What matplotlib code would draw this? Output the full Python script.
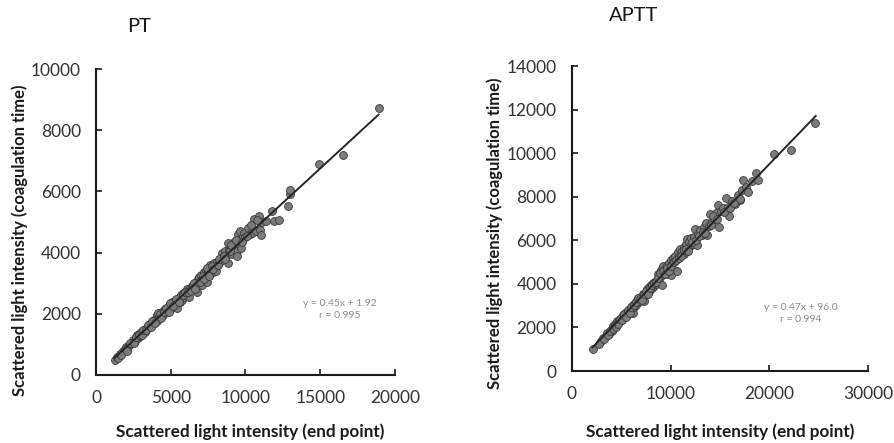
import numpy as np
import matplotlib.pyplot as plt

plt.rcParams['font.family'] = ['Lato', 'DejaVu Sans']

# PT: end point vs coagulation time scattered light intensity
pt_x = [1250, 1400, 1500, 1800, 1950, 2000, 2100, 2200, 2300, 2350, 2450, 2500, 2600, 2700,
        2750, 2800, 2900, 2950, 3000, 3100, 3200, 3250, 3300, 3400, 3500, 3550, 3600, 3700,
        3800, 3850, 3900, 4000, 4050, 4100, 4150, 4200, 4300, 4400, 4450, 4500, 4600, 4700,
        4750, 4800, 4900, 5000, 5050, 5100, 5200, 5250, 5300, 5400, 5450, 5500, 5600, 5650,
        5700, 5750, 5800, 5900, 6000, 6050, 6100, 6200, 6300, 6400, 6450, 6500, 6600, 6700,
        6750, 6800, 6850, 6900, 7000, 7050, 7100, 7200, 7300, 7350, 7400, 7500, 7600, 7650,
        7700, 7800, 7900, 8000, 8050, 8100, 8200, 8300, 8400, 8450, 8500, 8600, 8700, 8800,
        8850, 8900, 9000, 9100, 9200, 9300, 9400, 9450, 9500, 9600, 9650, 9700, 9800, 9900,
        10000, 10150, 10300, 10450, 10600, 10700, 10900, 11000, 11050, 11100, 11400, 11750,
        11900, 12250, 12850, 12950, 12950, 14950, 16500, 18900,
        1600, 1700, 2050, 2250, 2550, 2650, 2850, 3050, 3150, 3350, 3450, 3650, 3750, 3950,
        4250, 4350, 4550, 4650, 4850, 4950, 5150, 5350, 5550, 5850, 5950, 6150, 6350, 6550,
        6650, 6950, 7150, 7250, 7450, 7550, 7750, 7850, 8150, 8250, 8550, 8650, 8950, 9050,
        9350, 9750, 10100, 10400, 10800]
pt_y = [500, 600, 560, 780, 850, 900, 870, 980, 1000, 1060, 1080, 1150, 1120, 1230,
        1300, 1200, 1350, 1280, 1400, 1330, 1450, 1500, 1420, 1550, 1520, 1600, 1680, 1620,
        1750, 1700, 1800, 1820, 1760, 1950, 2030, 1880, 1920, 2000, 2100, 1950, 2150, 2080,
        2200, 2120, 2250, 2300, 2180, 2380, 2250, 2400, 2320, 2450, 2200, 2500, 2380, 2550,
        2600, 2450, 2680, 2550, 2750, 2620, 2800, 2550, 2850, 2900, 2780, 2950, 2880, 3050,
        2720, 3150, 2950, 3200, 3100, 3280, 2950, 3350, 3200, 3400, 3050, 3450, 3300, 3600,
        3500, 3350, 3650, 3550, 3400, 3700, 3650, 3800, 3750, 4000, 3850, 4050, 3900, 3650,
        4300, 4100, 4150, 3950, 4350, 4250, 4050, 3900, 4600, 4700, 4400, 4150, 4500, 4650,
        4500, 4800, 4600, 4650, 5100, 4700, 5200, 4750, 4580, 5000, 5020, 5350,
        5020, 5080, 5530, 5900, 6030, 6900, 7200, 8720,
        700, 650, 800, 1050, 1050, 1250, 1300, 1300, 1480, 1480, 1620, 1560, 1750, 1700,
        2000, 1850, 2050, 2200, 2050, 2350, 2250, 2500, 2400, 2600, 2700, 2700, 2750, 3000,
        2800, 3050, 3250, 3150, 3500, 3250, 3550, 3450, 3600, 3800, 3900, 3800, 4050, 4250,
        4400, 4350, 4550, 4900, 5050]
pt_fit = (0.45, 1.92)
pt_fit_range = (1250, 18900)
pt_note = "y = 0.45x + 1.92\nr = 0.995"

# APTT
aptt_x = [2150, 3000, 3200, 3500, 3600, 3800, 4000, 4100, 4200, 4300, 4400, 4500, 4600, 4700,
          4800, 4900, 5000, 5100, 5200, 5300, 5400, 5500, 5600, 5700, 5800, 5900, 6000, 6100,
          6200, 6250, 6300, 6400, 6500, 6600, 6700, 6800, 6900, 7000, 7100, 7200, 7300, 7400,
          7500, 7600, 7700, 7800, 7900, 8000, 8100, 8200, 8300, 8400, 8500, 8600, 8700, 8800,
          8900, 9000, 9100, 9150, 9200, 9300, 9400, 9500, 9600, 9700, 9800, 9900, 10000, 10050,
          10200, 10300, 10400, 10500, 10650, 10700, 10800, 10900, 11000, 11100, 11200, 11320,
          11400, 11500, 11600, 11700, 11800, 11900, 12000, 12100, 12250, 12400, 12480, 12650,
          12800, 13000, 13200, 13400, 13600, 13730, 13900, 14000, 14200, 14400, 14600, 14850,
          14950, 15100, 15300, 15620, 15800, 15960, 16200, 16550, 16800, 17040, 17200, 17380,
          17600, 17880, 18300, 18660, 18890, 20480, 22170, 24630,
          2800, 3300, 3700, 3900, 4150, 4450, 4650, 4850, 5050, 5250, 5450, 5650, 5850, 6050,
          6350, 6550, 6750, 6950, 7150, 7350, 7550, 7750, 7950, 8150, 8350, 8550, 8750, 8950,
          9250, 9450, 9650, 9850, 10100, 10350, 10600, 10850, 11050, 11350, 11550, 11750,
          12150, 12550, 12900, 13300, 13500, 14100, 14300, 14700, 15400, 16000, 16400, 17000]
aptt_y = [1000, 1400, 1500, 1600, 1750, 1700, 1900, 1850, 2050, 2000, 2150, 2100, 2300, 2200,
          2350, 2280, 2450, 2400, 2550, 2480, 2650, 2550, 2700, 2620, 2800, 2750, 2900, 2850,
          3050, 2650, 2950, 3100, 3050, 3250, 3150, 3300, 3200, 3400, 3350, 3550, 3200, 3600,
          3500, 3750, 3650, 3850, 3700, 3950, 3800, 4050, 3900, 4100, 4000, 4200, 4450, 4100,
          4300, 4650, 4400, 3970, 4800, 4500, 4700, 4600, 4850, 4450, 4950, 4750, 5100, 4400,
          4900, 5200, 5050, 5300, 4600, 5150, 5450, 5250, 5600, 5350, 5500, 5350,
          5700, 5450, 5850, 6050, 5650, 5900, 5750, 6100, 5850, 6150, 6500, 5800,
          6300, 6450, 6250, 6600, 6800, 6240, 6650, 7200, 6900, 7000, 7250, 7620,
          6620, 7350, 7500, 7960, 7550, 7115, 7800, 7680, 8100, 7850, 8300, 8770,
          8450, 8230, 8700, 9070, 8770, 9950, 10140, 11400,
          1250, 1450, 1650, 1850, 1950, 2000, 2150, 2400, 2350, 2600, 2500, 2800, 2650, 2950,
          3050, 3150, 3350, 3300, 3250, 3550, 3650, 3550, 3800, 3950, 4050, 4100, 4250, 4500,
          4600, 4450, 4750, 4600, 4800, 5000, 5100, 5200, 5300, 5550, 5600, 5500,
          5900, 6000, 6200, 6400, 6350, 6700, 7100, 7000, 7300, 7500, 7700, 7900]
aptt_fit = (0.47, 96.0)
aptt_fit_range = (2100, 24700)
aptt_note = "y = 0.47x + 96.0\nr = 0.994"

fig = plt.figure(figsize=(8.95, 4.43), dpi=100)
ax1 = fig.add_axes([0.1073, 0.1535, 0.334, 0.6907])
ax2 = fig.add_axes([0.6388, 0.1625, 0.3311, 0.6885])


def draw_panel(ax, xs, ys, fit, fit_range, note, note_xy, xlim, ylim, xticks, yticks):
    ax.scatter(xs, ys, s=32, facecolor='#7b7b7b', edgecolor='#3a3a3a', linewidth=0.6, zorder=2)
    fx = np.array(fit_range)
    ax.plot(fx, fit[0] * fx + fit[1], color='#262626', lw=1.4, zorder=3)
    ax.text(note_xy[0], note_xy[1], note, ha='center', va='center', fontsize=7.5,
            color='#8c8c8c', linespacing=1.3)
    ax.set_xlim(*xlim)
    ax.set_ylim(*ylim)
    ax.set_xticks(xticks)
    ax.set_yticks(yticks)
    for side in ('top', 'right'):
        ax.spines[side].set_visible(False)
    for side in ('left', 'bottom'):
        ax.spines[side].set_linewidth(1.5)
        ax.spines[side].set_color('#1a1a1a')
    ax.tick_params(direction='in', length=4, width=1.2, labelsize=12.5, pad=11,
                   colors='#1a1a1a', labelcolor='#333333')
    ax.set_xlabel('Scattered light intensity (end point)', fontsize=12.3, fontweight='bold',
                  color='#1a1a1a')
    ax.set_ylabel('Scattered light intensity (coagulation time)', fontsize=12,
                  fontweight='bold', color='#1a1a1a')


draw_panel(ax1, pt_x, pt_y, pt_fit, pt_fit_range, pt_note, (16320, 2140),
           (0, 20000), (0, 10000), [0, 5000, 10000, 15000, 20000], [0, 2000, 4000, 6000, 8000, 10000])
draw_panel(ax2, aptt_x, aptt_y, aptt_fit, aptt_fit_range, aptt_note, (23220, 2640),
           (0, 30000), (0, 14000), [0, 10000, 20000, 30000],
           [0, 2000, 4000, 6000, 8000, 10000, 12000, 14000])

ax1.xaxis.set_label_coords(0.515, -0.158)
ax1.yaxis.set_label_coords(-0.228, 0.441)
ax2.xaxis.set_label_coords(0.5, -0.172)
ax2.yaxis.set_label_coords(-0.232, 0.452)

ax1.text(0.144, 1.14, 'PT', transform=ax1.transAxes, ha='center', va='center', fontsize=14.5,
         color='#1a1a1a')
ax2.text(0.207, 1.167, 'APTT', transform=ax2.transAxes, ha='center', va='center', fontsize=14.5,
         color='#1a1a1a')

fig.savefig('out.png', dpi=100)
